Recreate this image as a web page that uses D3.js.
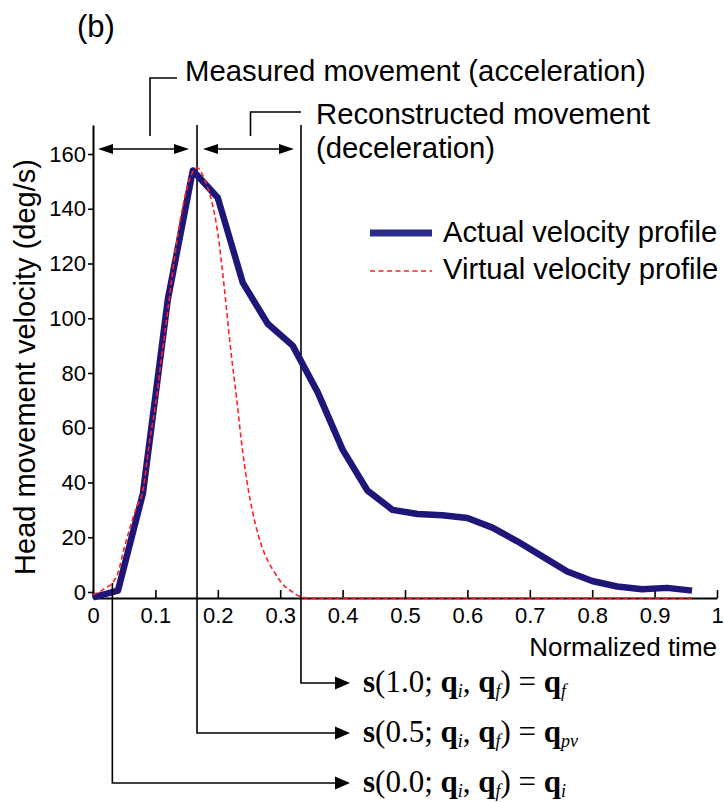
<!DOCTYPE html>
<html><head><meta charset="utf-8">
<script src="https://cdn.jsdelivr.net/npm/d3@7"></script>
<style>body{margin:0;background:#fff} svg{display:block}</style>
</head><body><svg id="c" width="724" height="802"></svg>
<script>
// ---- data ----
const actualTime = [0, 0.04, 0.08, 0.12, 0.16, 0.20, 0.24, 0.28, 0.32, 0.36, 0.40, 0.44, 0.48, 0.52, 0.56, 0.60, 0.64, 0.68, 0.72, 0.76, 0.80, 0.84, 0.88, 0.92, 0.96];
const actualVelocity = [-2, 0.5, 36, 107, 154, 144, 113, 98, 90, 73, 52, 37, 30, 28.5, 28, 27, 23.5, 18.5, 13, 7.5, 4, 2, 1, 1.5, 0.5];
const virtualTime = [0, 0.01, 0.02, 0.03, 0.04, 0.05, 0.06, 0.07, 0.08, 0.09, 0.10, 0.11, 0.12, 0.13, 0.14, 0.15, 0.16, 0.167, 0.18, 0.19, 0.20, 0.21, 0.22, 0.23, 0.24, 0.25, 0.26, 0.27, 0.28, 0.29, 0.30, 0.31, 0.32, 0.33, 0.345, 0.96];
const virtualVelocity = [-1, 0, 1.5, 3, 7, 16, 24, 31, 37, 54, 68, 86, 103, 121, 136, 147, 153.5, 155, 150, 143, 131, 112, 90, 71, 51, 36, 25, 17, 11.5, 7.5, 4, 1.5, 0, -1.5, -2.2, -2.2];
const xTicks = [0, 0.1, 0.2, 0.3, 0.4, 0.5, 0.6, 0.7, 0.8, 0.9, 1];
const xTickLabels = ["0", "0.1", "0.2", "0.3", "0.4", "0.5", "0.6", "0.7", "0.8", "0.9", "1"];
const yTicks = [0, 20, 40, 60, 80, 100, 120, 140, 160];
const seriesNames = ["Actual velocity profile", "Virtual velocity profile"];
const phaseTimes = [0, 0.1667, 0.3333];          // start, peak, end of virtual profile
const stateTimes = [0.3333, 0.1667, 0.031];      // s(1.0), s(0.5), s(0.0)
const stateArgs = ["1.0", "0.5", "0.0"];
const stateResults = ["f", "pv", "i"];

// ---- chart ----
const svg = d3.select("#c");
const sans = "'Liberation Sans', Arial, Helvetica, sans-serif";
const serif = "'Liberation Serif', 'Times New Roman', serif";
const x = d3.scaleLinear().domain([0, 1]).range([93, 717]);
const y = d3.scaleLinear().domain([-2.2, 170.6]).range([598, 125]);

// panel label
svg.append("text").attr("x", 77).attr("y", 37).attr("font-family", sans).attr("font-size", 31).text("(b)");

// axes
const yAxis = svg.append("g").attr("transform", `translate(${x(0)},0)`)
  .call(d3.axisLeft(y).tickValues(yTicks).tickSizeInner(5).tickSizeOuter(0).tickPadding(2));
const xAxis = svg.append("g").attr("transform", `translate(0,${y(-2.2)})`)
  .call(d3.axisBottom(x).tickValues(xTicks).tickFormat((d, i) => xTickLabels[i]).tickSizeInner(-8).tickSizeOuter(0).tickPadding(9));
[xAxis, yAxis].forEach(g => {
  g.select(".domain").attr("stroke", "#000").attr("stroke-width", 2);
  g.selectAll(".tick line").attr("stroke", "#000").attr("stroke-width", 1.6);
  g.selectAll(".tick text").attr("font-family", sans).attr("font-size", 22).attr("fill", "#000");
});

// axis titles
svg.append("text").attr("transform", `translate(35,367) rotate(-90)`)
  .attr("text-anchor", "middle").attr("font-family", sans).attr("font-size", 29).text("Head movement velocity (deg/s)");
svg.append("text").attr("x", 717).attr("y", 656).attr("text-anchor", "end")
  .attr("font-family", sans).attr("font-size", 26).text("Normalized time");

// vertical phase lines (start line is the y-axis itself)
phaseTimes.slice(1).forEach(t => {
  svg.append("line").attr("x1", x(t)).attr("x2", x(t)).attr("y1", y(170.6)).attr("y2", y(-2.2))
    .attr("stroke", "#000").attr("stroke-width", 1.6);
});

// series
const lineGen = d3.line().x(d => x(d[0])).y(d => y(d[1]));
svg.append("path").datum(actualTime.map((t, i) => [t, actualVelocity[i]]))
  .attr("d", lineGen).attr("fill", "none").attr("stroke", "#1e1679").attr("stroke-width", 6.5)
  .attr("stroke-linejoin", "round").attr("stroke-linecap", "butt");
svg.append("path").datum(virtualTime.map((t, i) => [t, virtualVelocity[i]]))
  .attr("d", lineGen.curve(d3.curveMonotoneX)).attr("fill", "none").attr("stroke", "#ff2222").attr("stroke-width", 1.6)
  .attr("stroke-dasharray", "5,3");

// arrow helper
function head(px, py, dir, len, half) {
  svg.append("path").attr("d", `M${px},${py}L${px - dir * len},${py - half}L${px - dir * len},${py + half}Z`).attr("fill", "#000");
}
// double arrows on top
const arrowY = 149;
[[x(phaseTimes[0]) + 5, x(phaseTimes[1]) - 8], [x(phaseTimes[1]) + 6, x(phaseTimes[2]) - 7]].forEach(([a, b]) => {
  svg.append("line").attr("x1", a + 10).attr("x2", b - 10).attr("y1", arrowY).attr("y2", arrowY).attr("stroke", "#000").attr("stroke-width", 1.6);
  head(a, arrowY, -1, 15, 5);
  head(b, arrowY, 1, 15, 5);
});
// brackets to labels
svg.append("path").attr("d", "M150,136V78H177").attr("fill", "none").attr("stroke", "#000").attr("stroke-width", 1.6);
svg.append("path").attr("d", "M250.5,136V112H301").attr("fill", "none").attr("stroke", "#000").attr("stroke-width", 1.6);
svg.append("text").attr("x", 185).attr("y", 81).attr("font-family", sans).attr("font-size", 29.3).text("Measured movement (acceleration)");
svg.append("text").attr("x", 316).attr("y", 124).attr("font-family", sans).attr("font-size", 29.3).text("Reconstructed movement");
svg.append("text").attr("x", 316).attr("y", 158).attr("font-family", sans).attr("font-size", 29.3).text("(deceleration)");

// legend
svg.append("line").attr("x1", 370).attr("x2", 432).attr("y1", 233).attr("y2", 233).attr("stroke", "#2b2b8e").attr("stroke-width", 7);
svg.append("line").attr("x1", 370).attr("x2", 432).attr("y1", 271).attr("y2", 271).attr("stroke", "#ff2222").attr("stroke-width", 1.5).attr("stroke-dasharray", "5,3.5");
svg.append("text").attr("x", 443).attr("y", 242).attr("font-family", sans).attr("font-size", 29.2).text(seriesNames[0]);
svg.append("text").attr("x", 443).attr("y", 279).attr("font-family", sans).attr("font-size", 29.2).text(seriesNames[1]);

// state annotations
const stateY = [683, 733, 783];
stateTimes.forEach((t, i) => {
  const top = i === 2 ? 583 : y(-2.2);
  svg.append("path").attr("d", `M${x(t)},${top}V${stateY[i]}H336`).attr("fill", "none").attr("stroke", "#000").attr("stroke-width", 1.6);
  head(350, stateY[i], 1, 15, 6.5);
  const tx = svg.append("text").attr("x", 363).attr("y", stateY[i] + 9).attr("font-family", serif).attr("font-size", 31);
  tx.append("tspan").attr("font-weight", "bold").text("s");
  tx.append("tspan").text(`(${stateArgs[i]}; `);
  tx.append("tspan").attr("font-weight", "bold").text("q");
  tx.append("tspan").attr("font-style", "italic").attr("font-size", 18).attr("dy", 5).text("i");
  tx.append("tspan").attr("dy", -5).text(", ");
  tx.append("tspan").attr("font-weight", "bold").text("q");
  tx.append("tspan").attr("font-style", "italic").attr("font-size", 18).attr("dy", 5).text("f");
  tx.append("tspan").attr("dy", -5).text(") = ");
  tx.append("tspan").attr("font-weight", "bold").text("q");
  tx.append("tspan").attr("font-style", "italic").attr("font-size", 18).attr("dy", 5).text(stateResults[i]);
});
</script></body></html>
